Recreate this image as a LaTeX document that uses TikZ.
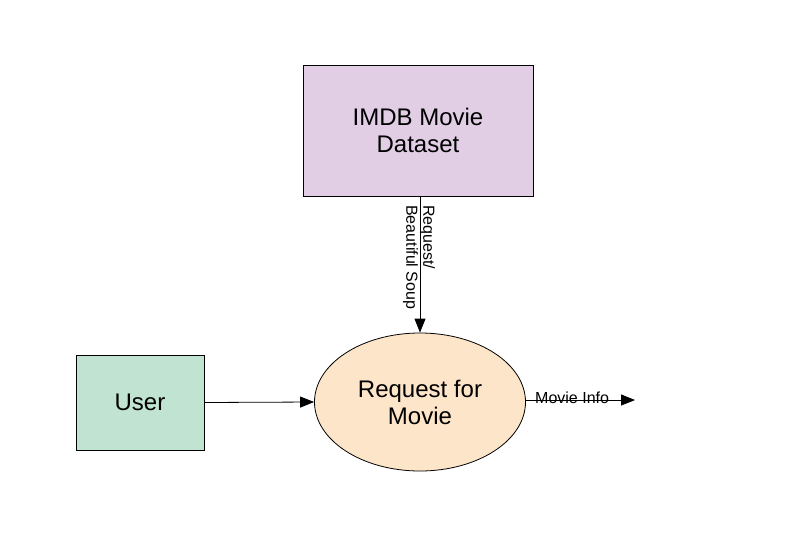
\documentclass[tikz,border=0pt]{standalone}
\usepackage{fontspec}
\setmainfont{Liberation Sans}
\usetikzlibrary{shapes.geometric,arrows.meta}
\definecolor{purp}{HTML}{E1CEE5}
\definecolor{grn}{HTML}{C0E4D1}
\definecolor{peach}{HTML}{FDE5C9}
\tikzset{
  box/.style={draw=black, line width=0.8pt, align=center, font=\fontsize{24}{27}\selectfont, inner sep=0pt},
  conn/.style={draw=black, line width=0.8pt, -{Triangle[length=14pt,width=11pt]}},
  small/.style={font=\fontsize{16}{17}\selectfont, inner sep=0pt}
}
\begin{document}
\begin{tikzpicture}[x=1pt,y=-1pt]
\useasboundingbox (0,0) rectangle (794,543);
\node[box, fill=purp, minimum width=230pt, minimum height=131pt] (imdb) at (418,130.5) {IMDB Movie\\Dataset};
\node[box, fill=grn, minimum width=128pt, minimum height=95pt] (user) at (140,402.5) {User};
\node[box, ellipse, fill=peach, minimum width=211pt, minimum height=138pt] (req) at (420,402) {Request for\\Movie};
\coordinate (out) at (635,400);
\draw[conn] (imdb.south -| req.north) -- (req.north);
\draw[conn] (user.east) -- (req.west);
\draw[conn] (req.east |- out) -- (out);
\node[small, align=left, rotate=-90, anchor=west] (lab1) at (419,205) {Request/\\Beautiful Soup};
\node[small, anchor=south west] (lab2) at (535,404) {Movie Info};
\end{tikzpicture}
\end{document}
